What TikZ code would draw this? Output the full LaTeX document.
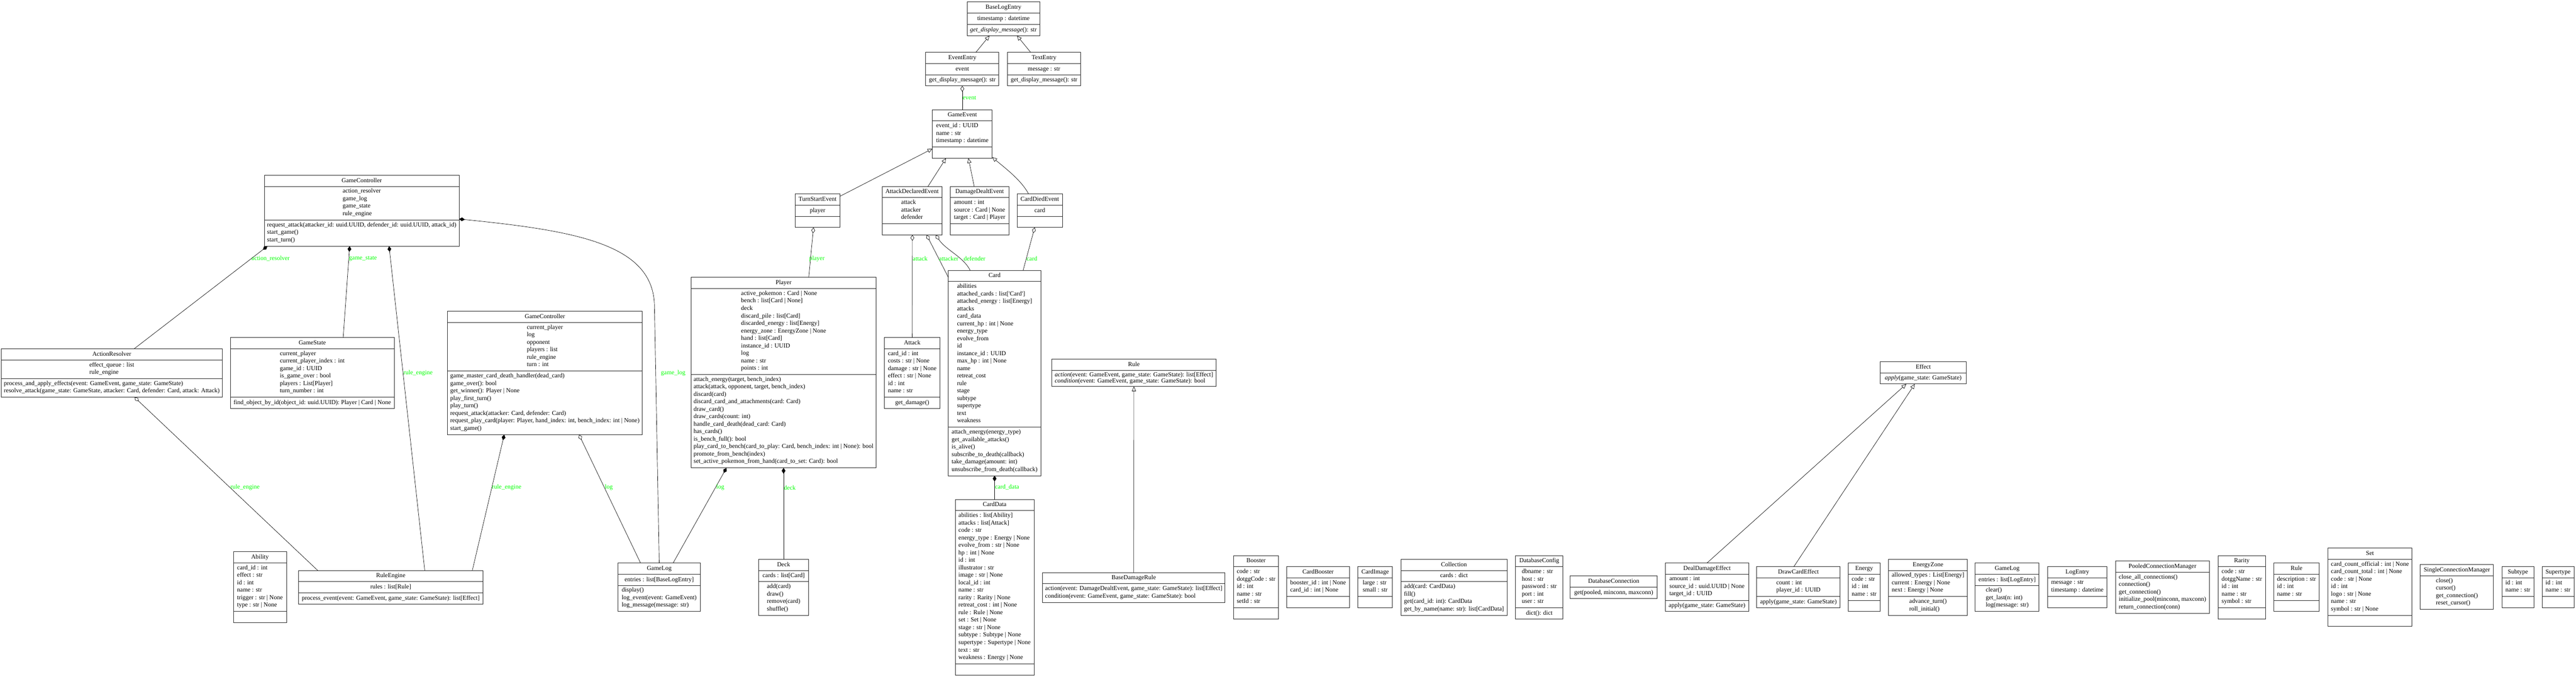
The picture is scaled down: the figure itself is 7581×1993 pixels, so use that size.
\documentclass[tikz,border=0pt]{standalone}
\usepackage{fontspec}
\setmainfont{Liberation Serif}
\usetikzlibrary{arrows.meta,calc}
\definecolor{lblgreen}{RGB}{0,255,0}
\def\umllsp{22}
\newcommand{\ufont}{\fontsize{18.2}{\umllsp}\selectfont}
\tikzset{
 classbox/.style={draw=black!85, line width=1.5pt, inner sep=0pt, outer sep=0pt, rectangle},
 sepline/.style={draw=black!85, line width=1.5pt},
 utext/.style={font=\ufont, align=left, inner sep=0pt, outer sep=0pt, execute at begin node=\strut, execute at end node=\strut},
 conn/.style={line width=1pt, draw=black},
 inherit/.style={conn, -{Triangle[open, length=14pt, width=12pt, line width=1pt]}},
 aggr/.style={conn, {Diamond[open, length=17pt, width=11pt, line width=1pt]}-},
 compo/.style={conn, {Diamond[length=17pt, width=11pt]}-},
 elabel/.style={font=\ufont, text=lblgreen, inner sep=0pt, anchor=west},
}
% #1 name, #2 cx, #3 top, #4 width, #5 nAttr (-1 none), #6 nMeth (-1 none), #7 title, #8 attrs, #9 methods
\newcommand{\umlclass}[9]{%
  \pgfmathsetmacro\uA{ifthenelse(#5<0,0,max(#5,1)*\umllsp+11)}%
  \pgfmathsetmacro\uM{ifthenelse(#6<0,0,max(#6,1)*\umllsp+11)}%
  \pgfmathsetmacro\uH{33+\uA+\uM}%
  \pgfmathsetmacro\uL{#2-#4/2}%
  \pgfmathsetmacro\uR{#2+#4/2}%
  \node[classbox, minimum width=#4pt, minimum height=\uH pt, anchor=north] (#1) at (#2,#3) {};
  \node[utext] (#1-t) at (#2,#3+16.5) {#7};
  \draw[sepline] (\uL,#3+33) -- (\uR,#3+33);
  \ifnum#5>-1
    \node[utext] (#1-a) at (#2,#3+33+\uA/2) {#8};
    \ifnum#6>-1 \draw[sepline] (\uL,#3+33+\uA) -- (\uR,#3+33+\uA);\fi
  \fi
  \ifnum#6>-1
    \node[utext] (#1-m) at (#2,#3+33+\uA+\uM/2) {#9};
  \fi
}
\begin{document}
\begin{tikzpicture}[x=1pt,y=-1pt]
\fill[white] (0,0) rectangle (7581,1993);
\useasboundingbox (0,0) rectangle (7581,1993);

% ---- top ranks
\umlclass{baselog}{2953}{6}{214}{1}{1}{BaseLogEntry}{timestamp : datetime}{\textit{get\_display\_message}(): str}
\umlclass{evententry}{2832}{154}{215}{1}{1}{EventEntry}{event}{get\_display\_message(): str}
\umlclass{textentry}{3072.5}{154}{215}{1}{1}{TextEntry}{message : str}{get\_display\_message(): str}
\umlclass{gameevent}{2832}{323}{176}{3}{0}{GameEvent}{event\_id : UUID\\name : str\\timestamp : datetime}{}
\umlclass{turnstart}{2406}{571}{132}{1}{0}{TurnStartEvent}{player}{}
\umlclass{attackdecl}{2684}{549}{176}{3}{0}{AttackDeclaredEvent}{attack\\attacker\\defender}{}
\umlclass{damagedealt}{2883}{549}{172}{3}{0}{DamageDealtEvent}{amount : int\\source : Card | None\\target : Card | Player}{}
\umlclass{carddied}{3060}{571}{134}{1}{0}{CardDiedEvent}{card}{}
\umlclass{gctop}{1064.5}{516}{573}{4}{3}{GameController}{action\_resolver\\game\_log\\game\_state\\rule\_engine}{request\_attack(attacker\_id: uuid.UUID, defender\_id: uuid.UUID, attack\_id)\\start\_game()\\start\_turn()}

% ---- middle rank
\umlclass{actionres}{329}{1027}{650}{2}{2}{ActionResolver}{effect\_queue : list\\rule\_engine}{process\_and\_apply\_effects(event: GameEvent, game\_state: GameState)\\resolve\_attack(game\_state: GameState, attacker: Card, defender: Card, attack: Attack)}
\umlclass{gamestate}{919}{994}{482}{6}{1}{GameState}{current\_player\\current\_player\_index : int\\game\_id : UUID\\is\_game\_over : bool\\players : List[Player]\\turn\_number : int}{find\_object\_by\_id(object\_id: uuid.UUID): Player | Card | None}
\umlclass{gcmid}{1603.5}{917}{573}{6}{8}{GameController}{current\_player\\log\\opponent\\players : list\\rule\_engine\\turn : int}{game\_master\_card\_death\_handler(dead\_card)\\game\_over(): bool\\get\_winner(): Player | None\\play\_first\_turn()\\play\_turn()\\request\_attack(attacker: Card, defender: Card)\\request\_play\_card(player: Player, hand\_index: int, bench\_index: int | None)\\start\_game()}
\umlclass{player}{2306}{817}{544}{11}{12}{Player}{active\_pokemon : Card | None\\bench : list[Card | None]\\deck\\discard\_pile : list[Card]\\discarded\_energy : list[Energy]\\energy\_zone : EnergyZone | None\\hand : list[Card]\\instance\_id : UUID\\log\\name : str\\points : int}{attach\_energy(target, bench\_index)\\attack(attack, opponent, target, bench\_index)\\discard(card)\\discard\_card\_and\_attachments(card: Card)\\draw\_card()\\draw\_cards(count: int)\\handle\_card\_death(dead\_card: Card)\\has\_cards()\\is\_bench\_full(): bool\\play\_card\_to\_bench(card\_to\_play: Card, bench\_index: int | None): bool\\promote\_from\_bench(index)\\set\_active\_pokemon\_from\_hand(card\_to\_set: Card): bool}
\umlclass{attack}{2684.5}{994}{165}{6}{1}{Attack}{card\_id : int\\costs : str | None\\damage : str | None\\effect : str | None\\id : int\\name : str}{get\_damage()}
\umlclass{card}{2927}{796}{272}{19}{6}{Card}{abilities\\attached\_cards : list[\textquotesingle Card\textquotesingle]\\attached\_energy : list[Energy]\\attacks\\card\_data\\current\_hp : int | None\\energy\_type\\evolve\_from\\id\\instance\_id : UUID\\max\_hp : int | None\\name\\retreat\_cost\\rule\\stage\\subtype\\supertype\\text\\weakness}{attach\_energy(energy\_type)\\get\_available\_attacks()\\is\_alive()\\subscribe\_to\_death(callback)\\take\_damage(amount: int)\\unsubscribe\_from\_death(callback)}
\def\umllsp{18}
\umlclass{rule}{3337}{1058}{484}{-1}{2}{Rule}{}{\textit{action}(event: GameEvent, game\_state: GameState): list[Effect]\\\textit{condition}(event: GameEvent, game\_state: GameState): bool}
\def\umllsp{22}
\umlclass{effect}{5660}{1065}{252}{-1}{1}{Effect}{}{\textit{apply}(game\_state: GameState)}

% ---- bottom rank
\umlclass{ability}{765}{1625}{156}{6}{0}{Ability}{card\_id : int\\effect : str\\id : int\\name : str\\trigger : str | None\\type : str | None}{}
\umlclass{ruleengine}{1150}{1680}{542}{1}{1}{RuleEngine}{rules : list[Rule]}{process\_event(event: GameEvent, game\_state: GameState): list[Effect]}
\umlclass{gamelog1}{1940}{1658}{242}{1}{3}{GameLog}{entries : list[BaseLogEntry]}{display()\\log\_event(event: GameEvent)\\log\_message(message: str)}
\umlclass{deck}{2306}{1647}{146}{1}{4}{Deck}{cards : list[Card]}{add(card)\\draw()\\remove(card)\\shuffle()}
\umlclass{carddata}{2927}{1471}{232}{20}{0}{CardData}{abilities : list[Ability]\\attacks : list[Attack]\\code : str\\energy\_type : Energy | None\\evolve\_from : str | None\\hp : int | None\\id : int\\illustrator : str\\image : str | None\\local\_id : int\\name : str\\rarity : Rarity | None\\retreat\_cost : int | None\\rule : Rule | None\\set : Set | None\\stage : str | None\\subtype : Subtype | None\\supertype : Supertype | None\\text : str\\weakness : Energy | None}{}
\umlclass{basedmgrule}{3336.5}{1686}{537}{-1}{2}{BaseDamageRule}{}{action(event: DamageDealtEvent, game\_state: GameState): list[Effect]\\condition(event: GameEvent, game\_state: GameState): bool}
\umlclass{booster}{3696.5}{1636}{133}{5}{0}{Booster}{code : str\\dotggCode : str\\id : int\\name : str\\setId : str}{}
\umlclass{cardbooster}{3879}{1669}{184}{2}{0}{CardBooster}{booster\_id : int | None\\card\_id : int | None}{}
\umlclass{cardimage}{4047}{1669}{102}{2}{0}{CardImage}{large : str\\small : str}{}
\umlclass{collection}{4279}{1647}{312}{1}{4}{Collection}{cards : dict}{add(card: CardData)\\fill()\\get(card\_id: int): CardData\\get\_by\_name(name: str): list[CardData]}
\umlclass{dbconfig}{4530}{1636}{140}{5}{1}{DatabaseConfig}{dbname : str\\host : str\\password : str\\port : int\\user : str}{dict(): dict}
\umlclass{dbconn}{4749}{1696}{256}{-1}{1}{DatabaseConnection}{}{get(pooled, minconn, maxconn)}
\umlclass{dealdmg}{5023.5}{1658}{245}{3}{1}{DealDamageEffect}{amount : int\\source\_id : uuid.UUID | None\\target\_id : UUID}{apply(game\_state: GameState)}
\umlclass{drawcard}{5292.5}{1669}{245}{2}{1}{DrawCardEffect}{count : int\\player\_id : UUID}{apply(game\_state: GameState)}
\umlclass{energy}{5486}{1658}{94}{3}{0}{Energy}{code : str\\id : int\\name : str}{}
\umlclass{energyzone}{5674}{1647}{232}{3}{2}{EnergyZone}{allowed\_types : List[Energy]\\current : Energy | None\\next : Energy | None}{advance\_turn()\\roll\_initial()}
\umlclass{gamelog2}{5907}{1658}{188}{1}{3}{GameLog}{entries : list[LogEntry]}{clear()\\get\_last(n: int)\\log(message: str)}
\umlclass{logentry}{6113.5}{1669}{175}{2}{0}{LogEntry}{message : str\\timestamp : datetime}{}
\umlclass{pooledcm}{6364}{1652}{276}{-1}{5}{PooledConnectionManager}{}{close\_all\_connections()\\connection()\\get\_connection()\\initialize\_pool(minconn, maxconn)\\return\_connection(conn)}
\umlclass{rarity}{6597.5}{1636}{139}{5}{0}{Rarity}{code : str\\dotggName : str\\id : int\\name : str\\symbol : str}{}
\umlclass{ruledata}{6758.5}{1658}{133}{3}{0}{Rule}{description : str\\id : int\\name : str}{}
\umlclass{set}{6974.5}{1614}{248}{7}{0}{Set}{card\_count\_official : int | None\\card\_count\_total : int | None\\code : str | None\\id : int\\logo : str | None\\name : str\\symbol : str | None}{}
\umlclass{singlecm}{7230.5}{1663}{215}{-1}{4}{SingleConnectionManager}{}{close()\\cursor()\\get\_connection()\\reset\_cursor()}
\umlclass{subtype}{7410}{1669}{94}{2}{0}{Subtype}{id : int\\name : str}{}
\umlclass{supertype}{7528}{1669}{94}{2}{0}{Supertype}{id : int\\name : str}{}

% ---- inheritance
\draw[inherit] ([xshift=40pt]evententry.north) -- ([xshift=-41pt]baselog.south);
\draw[inherit] ([xshift=-39.5pt]textentry.north) -- ([xshift=40pt]baselog.south);
\draw[inherit] ([yshift=-7pt]turnstart.north east) -- ([yshift=28pt]gameevent.south west);
\draw[inherit] ([xshift=47pt]attackdecl.north) -- ([xshift=-48pt]gameevent.south);
\draw[inherit] ([xshift=-16pt]damagedealt.north) -- ([xshift=18pt]gameevent.south);
\draw[inherit] ([xshift=-33pt]carddied.north) .. controls +(-22,-41) and +(38,32) .. ([yshift=3pt]gameevent.south east);
\draw[inherit] (basedmgrule.north) -- (rule.south);
\draw[inherit] (dealdmg.north) -- ([xshift=-50pt]effect.south);
\draw[inherit] ([xshift=-13.5pt]drawcard.north) -- ([xshift=-25pt]effect.south);

% ---- associations
\draw[aggr] (evententry.south) -- (gameevent.north);
\draw[aggr] ([xshift=-12pt]turnstart.south) -- ([xshift=74pt]player.north);
\draw[aggr] ([xshift=1pt]attackdecl.south) -- (attack.north);
\draw[aggr] ([xshift=43pt]attackdecl.south) -- ([yshift=-21pt]card.north west);
\draw[aggr] ([xshift=70pt]attackdecl.south) .. controls +(30,45) and +(-20,-40) .. ([xshift=-72pt]card.north);
\draw[aggr] ([xshift=-15pt]carddied.south) -- ([xshift=84pt]card.north);
\draw[compo] (card.south) -- (carddata.north);
\draw[compo] (player.south) -- (deck.north);
\draw[compo] ([xshift=-168pt]player.south) -- ([xshift=41pt]gamelog1.north);
\coordinate (glbend) at (1926,900);
\draw[compo] ([yshift=-24.5pt]gctop.east) .. controls (1700,680) and (1922,720) .. (glbend) -- (gamelog1.north);
\draw[aggr] ([xshift=100.5pt]gcmid.south) -- ([xshift=-55pt]gamelog1.north);
\draw[compo] ([xshift=-119.5pt]gcmid.south) -- ([xshift=240pt]ruleengine.north);
\draw[compo] ([xshift=80.5pt]gctop.south) -- ([xshift=100pt]ruleengine.north);
\draw[compo] ([xshift=-277.5pt]gctop.south) -- ([xshift=66pt]actionres.north);
\draw[compo] ([xshift=-35.5pt]gctop.south) -- ([xshift=91pt]gamestate.north);
\draw[aggr] ([xshift=67pt]actionres.south) -- ([xshift=-215pt]ruleengine.north);

% ---- labels
\node[elabel] (l-event) at (2833,289) {event};
\node[elabel] (l-player) at (2381,762) {player};
\node[elabel] (l-attack) at (2686,762) {attack};
\node[elabel] (l-attacker) at (2763,762) {attacker};
\node[elabel] (l-defender) at (2836,762) {defender};
\node[elabel] (l-card) at (3021,762) {card};
\node[elabel] (l-carddata) at (2928,1435) {card\_data};
\node[elabel] (l-deck) at (2307,1436) {deck};
\node[elabel] (l-plog) at (2108,1436) {log};
\node[elabel] (l-gamelog) at (1945,1099) {game\_log};
\node[elabel] (l-mlog) at (1780,1436) {log};
\node[elabel] (l-mre) at (1448,1436) {rule\_engine};
\node[elabel] (l-tre) at (1187,1099) {rule\_engine};
\node[elabel] (l-ar) at (740,762) {action\_resolver};
\node[elabel] (l-gs) at (1027,762) {game\_state};
\node[elabel] (l-are) at (678,1436) {rule\_engine};
\end{tikzpicture}
\end{document}
